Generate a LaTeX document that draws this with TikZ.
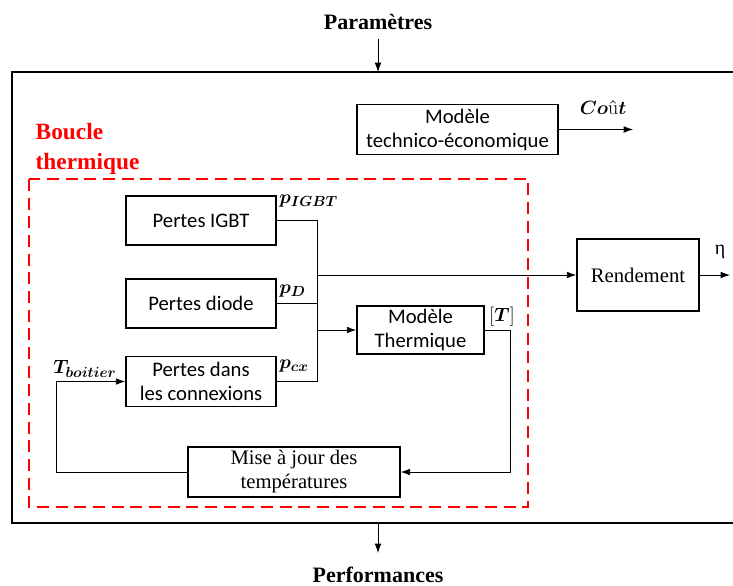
\documentclass[tikz,border=0pt]{standalone}
\usepackage{fontspec}
\usepackage{bm}
\usetikzlibrary{arrows.meta}
\newfontfamily\calibri{Carlito}
\newfontfamily\cambria{Liberation Serif}

\tikzset{
  >={Latex[length=7pt,width=5pt]},
  bloc/.style={draw, line width=1.2pt, inner sep=0pt, align=center,
    font=\calibri\fontsize{15.5}{18}\selectfont},
  blocserif/.style={bloc, font=\cambria\fontsize{15.5}{18}\selectfont},
  lien/.style={line width=0.6pt},
  titre/.style={font=\cambria\bfseries\fontsize{16.5}{20}\selectfont},
  grandeur/.style={font=\fontsize{15}{18}\selectfont, inner sep=0pt},
}

\begin{document}
\begin{tikzpicture}[x=0.75pt,y=-0.75pt]
\useasboundingbox (0,0) rectangle (733,586);

% =========================================================
% Rahmen: Paramètres oben, Performances unten
% =========================================================
\node[titre] (param) at (378,22) {Paramètres};
\coordinate (haut) at (378,72);
\draw[->, lien] (378,39) -- (haut);
\draw[line width=2pt] (733,72) -- (12,72) -- (12,523) -- (733,523);
\coordinate (bas) at (378,523);
\coordinate (perfpfeil) at (378,553);
\draw[->, lien] (bas) -- (perfpfeil);
\node[titre] (perf) at (378,575) {Performances};

% =========================================================
% Modèle technico-économique
% =========================================================
\node[bloc, minimum width=150.75pt, minimum height=37.5pt] (techno) at (457.5,129.5)
  {Modèle\\technico-économique};
\coordinate (cout) at (633,129.5);
\draw[->, lien] (techno.east) -- (cout);
\node[grandeur] (coutlabel) at (603,108) {$\bm{Co}$\^{u}$\bm{t}$};

% =========================================================
% Boucle thermique (rot gestrichelt)
% =========================================================
\node[titre, red, align=left, anchor=base west, font=\cambria\bfseries\fontsize{17.5}{22}\selectfont]
  (boucle) at (31,169) {Boucle\\thermique};
\draw[red, line width=2pt, dash pattern=on 9pt off 5pt] (29,179) rectangle (528,507);

% Verluste
\node[bloc, minimum width=112.5pt, minimum height=36.75pt] (igbt) at (201,220.5) {Pertes IGBT};
\node[bloc, minimum width=112.5pt, minimum height=36.75pt] (diode) at (201,303.5) {Pertes diode};
\node[bloc, minimum width=112.5pt, minimum height=37.5pt] (cx) at (201,381.5) {Pertes dans\\les connexions};

\node[grandeur, anchor=west] (pigbt) at (279,201) {$\bm{p_{IGBT}}$};
\node[grandeur, anchor=west] (pd) at (279,291) {$\bm{p_{D}}$};
\node[grandeur, anchor=west] (pcx) at (279,366) {$\bm{p_{cx}}$};

% Modèle thermique + Mise à jour
\node[bloc, minimum width=95.25pt, minimum height=36pt] (therm) at (420.5,330) {Modèle\\Thermique};
\node[blocserif, minimum width=159pt, minimum height=37.5pt] (maj) at (294,472)
  {Mise à jour des\\températures};
\node[grandeur] (tvec) at (502,317) {$[\bm{T}]$};
\node[grandeur] (tboit) at (85,369) {$\bm{T_{boitier}}$};

% Rendement
\node[blocserif, minimum width=91.5pt, minimum height=54pt] (rend) at (638,275) {Rendement};
\coordinate (eta) at (730,275);
\draw[->, lien] (rend.east) -- (eta);
\node[grandeur, font=\cambria\fontsize{15}{18}\selectfont] (etalabel) at (720,252) {η};

% =========================================================
% Verbindungen
% =========================================================
\coordinate (bus) at (317,0);
\coordinate (droite) at (510,0);
\coordinate (gauche) at (56,0);
\draw[lien] (igbt.east) -| (cx.east -| bus) -- (cx.east);
\draw[lien] (diode.east) -- (diode.east -| bus);
\draw[->, lien] (bus |- rend.west) -- (rend.west);
\draw[->, lien] (bus |- therm.west) -- (therm.west);
\draw[->, lien] (therm.east) -- (therm.east -| droite) |- (maj.east);
\draw[->, lien] (maj.west) -- (maj.west -| gauche) |- (cx.west);

\end{tikzpicture}
\end{document}
